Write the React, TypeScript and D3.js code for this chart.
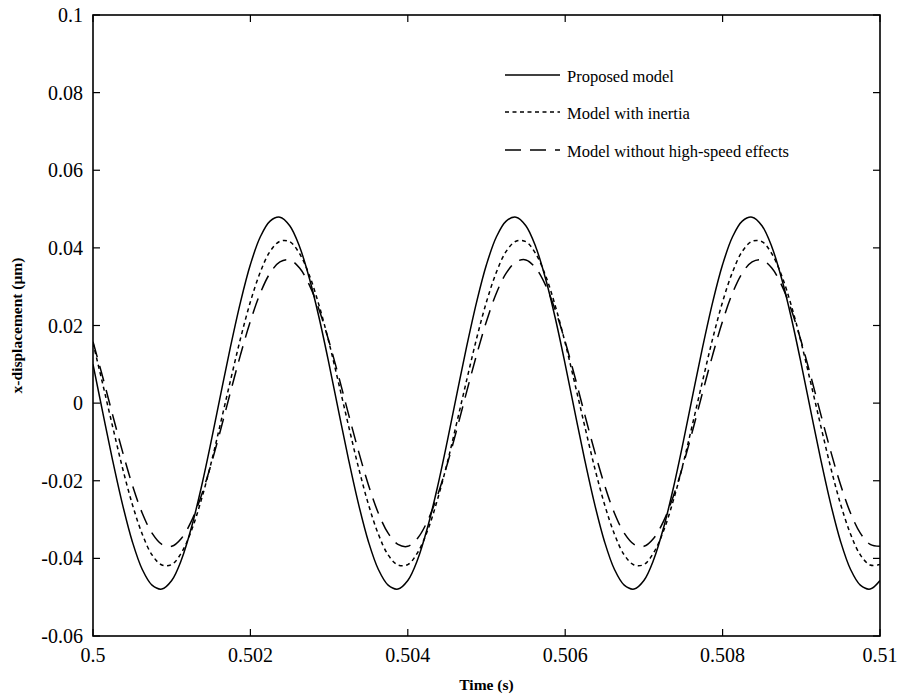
import React from "react";
import * as d3 from "d3";

// time samples: 0.5 .. 0.51 step 0.000125 (81 points)
const tStart = 0.5;
const tStep = 0.000125;

const proposed = [
  0.0100, -0.0025, -0.0148, -0.0261, -0.0357, -0.0428, -0.0469, -0.0479, -0.0457, -0.0403, -0.0321, -0.0218,
  -0.0100, 0.0025, 0.0148, 0.0261, 0.0357, 0.0428, 0.0469, 0.0479, 0.0457, 0.0403, 0.0321, 0.0218,
  0.0100, -0.0025, -0.0148, -0.0261, -0.0357, -0.0428, -0.0469, -0.0479, -0.0457, -0.0403, -0.0321, -0.0218,
  -0.0100, 0.0025, 0.0148, 0.0261, 0.0357, 0.0428, 0.0469, 0.0479, 0.0457, 0.0403, 0.0321, 0.0218,
  0.0100, -0.0025, -0.0148, -0.0261, -0.0357, -0.0428, -0.0469, -0.0479, -0.0457, -0.0403, -0.0321, -0.0218,
  -0.0100, 0.0025, 0.0148, 0.0261, 0.0357, 0.0428, 0.0469, 0.0479, 0.0457, 0.0403, 0.0321, 0.0218,
  0.0100, -0.0025, -0.0148, -0.0261, -0.0357, -0.0428, -0.0469, -0.0479, -0.0457,
];

const withInertia = [
  0.0155, 0.0048, -0.0061, -0.0167, -0.0261, -0.0337, -0.0391, -0.0417, -0.0416, -0.0385, -0.0329, -0.0250,
  -0.0155, -0.0048, 0.0061, 0.0167, 0.0261, 0.0337, 0.0391, 0.0417, 0.0416, 0.0385, 0.0329, 0.0250,
  0.0155, 0.0048, -0.0061, -0.0167, -0.0261, -0.0337, -0.0391, -0.0417, -0.0416, -0.0385, -0.0329, -0.0250,
  -0.0155, -0.0048, 0.0061, 0.0167, 0.0261, 0.0337, 0.0391, 0.0417, 0.0416, 0.0385, 0.0329, 0.0250,
  0.0155, 0.0048, -0.0061, -0.0167, -0.0261, -0.0337, -0.0391, -0.0417, -0.0416, -0.0385, -0.0329, -0.0250,
  -0.0155, -0.0048, 0.0061, 0.0167, 0.0261, 0.0337, 0.0391, 0.0417, 0.0416, 0.0385, 0.0329, 0.0250,
  0.0155, 0.0048, -0.0061, -0.0167, -0.0261, -0.0337, -0.0391, -0.0417, -0.0416,
];

const withoutHighSpeed = [
  0.0158, 0.0066, -0.0031, -0.0125, -0.0211, -0.0283, -0.0335, -0.0364, -0.0369, -0.0348, -0.0304, -0.0239,
  -0.0158, -0.0066, 0.0031, 0.0125, 0.0211, 0.0283, 0.0335, 0.0364, 0.0369, 0.0348, 0.0304, 0.0239,
  0.0158, 0.0066, -0.0031, -0.0125, -0.0211, -0.0283, -0.0335, -0.0364, -0.0369, -0.0348, -0.0304, -0.0239,
  -0.0158, -0.0066, 0.0031, 0.0125, 0.0211, 0.0283, 0.0335, 0.0364, 0.0369, 0.0348, 0.0304, 0.0239,
  0.0158, 0.0066, -0.0031, -0.0125, -0.0211, -0.0283, -0.0335, -0.0364, -0.0369, -0.0348, -0.0304, -0.0239,
  -0.0158, -0.0066, 0.0031, 0.0125, 0.0211, 0.0283, 0.0335, 0.0364, 0.0369, 0.0348, 0.0304, 0.0239,
  0.0158, 0.0066, -0.0031, -0.0125, -0.0211, -0.0283, -0.0335, -0.0364, -0.0369,
];

const xTicks = [0.5, 0.502, 0.504, 0.506, 0.508, 0.51];
const xTickLabels = ["0.5", "0.502", "0.504", "0.506", "0.508", "0.51"];
const yTicks = [-0.06, -0.04, -0.02, 0, 0.02, 0.04, 0.06, 0.08, 0.1];
const yTickLabels = ["-0.06", "-0.04", "-0.02", "0", "0.02", "0.04", "0.06", "0.08", "0.1"];

const seriesNames = ["Proposed model", "Model with inertia", "Model without high-speed effects"];
const seriesDash = ["none", "4,3.5", "16,9"];
const xLabel = "Time (s)";
const yLabel = "x-displacement (\u03bcm)";

const W = 897;
const H = 698;
const L = 93;
const R = 880;
const T = 15;
const B = 636;
const FONT = "'Liberation Serif', 'Times New Roman', serif";

export default function App() {
  const x = d3.scaleLinear().domain([0.5, 0.51]).range([L, R]);
  const y = d3.scaleLinear().domain([-0.06, 0.1]).range([B, T]);
  const allSeries = [proposed, withInertia, withoutHighSpeed];
  const line = d3
    .line<number>()
    .x((_, i) => x(tStart + i * tStep))
    .y((d) => y(d))
    .curve(d3.curveCatmullRom.alpha(0.5));
  const tick = 7;
  const legendX0 = 505;
  const legendX1 = 560;
  const legendY = [75, 112, 150];

  return (
    <svg
      width={W}
      height={H}
      style={{ position: "absolute", left: 0, top: 0, background: "#fff", fontFamily: FONT }}
    >
      <rect x={0} y={0} width={W} height={H} fill="#fff" />
      <defs>
        <clipPath id="plotclip">
          <rect x={L} y={T} width={R - L} height={B - T} />
        </clipPath>
      </defs>
      <g clipPath="url(#plotclip)">
        {allSeries.map((s, i) => (
          <path
            key={i}
            d={line(s) || ""}
            fill="none"
            stroke="#000"
            strokeWidth={1.5}
            strokeDasharray={seriesDash[i] === "none" ? undefined : seriesDash[i]}
          />
        ))}
      </g>
      {/* ticks */}
      {xTicks.map((t, i) => (
        <g key={"xt" + i}>
          <line x1={x(t)} x2={x(t)} y1={B} y2={B - tick} stroke="#000" strokeWidth={1.2} />
          <line x1={x(t)} x2={x(t)} y1={T} y2={T + tick} stroke="#000" strokeWidth={1.2} />
          <text x={x(t)} y={B + 26} fontSize={20} textAnchor="middle" fill="#000">
            {xTickLabels[i]}
          </text>
        </g>
      ))}
      {yTicks.map((t, i) => (
        <g key={"yt" + i}>
          <line x1={L} x2={L + tick} y1={y(t)} y2={y(t)} stroke="#000" strokeWidth={1.2} />
          <line x1={R} x2={R - tick} y1={y(t)} y2={y(t)} stroke="#000" strokeWidth={1.2} />
          <text x={L - 10} y={y(t) + 7} fontSize={20} textAnchor="end" fill="#000">
            {yTickLabels[i]}
          </text>
        </g>
      ))}
      <rect x={L} y={T} width={R - L} height={B - T} fill="none" stroke="#000" strokeWidth={1.6} />
      {/* axis labels */}
      <text x={(L + R) / 2} y={690} fontSize={15.5} fontWeight="bold" textAnchor="middle" fill="#000">
        {xLabel}
      </text>
      <text
        transform={`translate(22, ${(T + B) / 2}) rotate(-90)`}
        fontSize={15.5}
        fontWeight="bold"
        textAnchor="middle"
        fill="#000"
      >
        {yLabel}
      </text>
      {/* legend */}
      {seriesNames.map((n, i) => (
        <g key={"lg" + i}>
          <line
            x1={legendX0}
            x2={legendX1}
            y1={legendY[i]}
            y2={legendY[i]}
            stroke="#000"
            strokeWidth={1.4}
            strokeDasharray={seriesDash[i] === "none" ? undefined : seriesDash[i]}
          />
          <text x={legendX1 + 7} y={legendY[i] + 7} fontSize={16.5} fill="#000">
            {n}
          </text>
        </g>
      ))}
    </svg>
  );
}
